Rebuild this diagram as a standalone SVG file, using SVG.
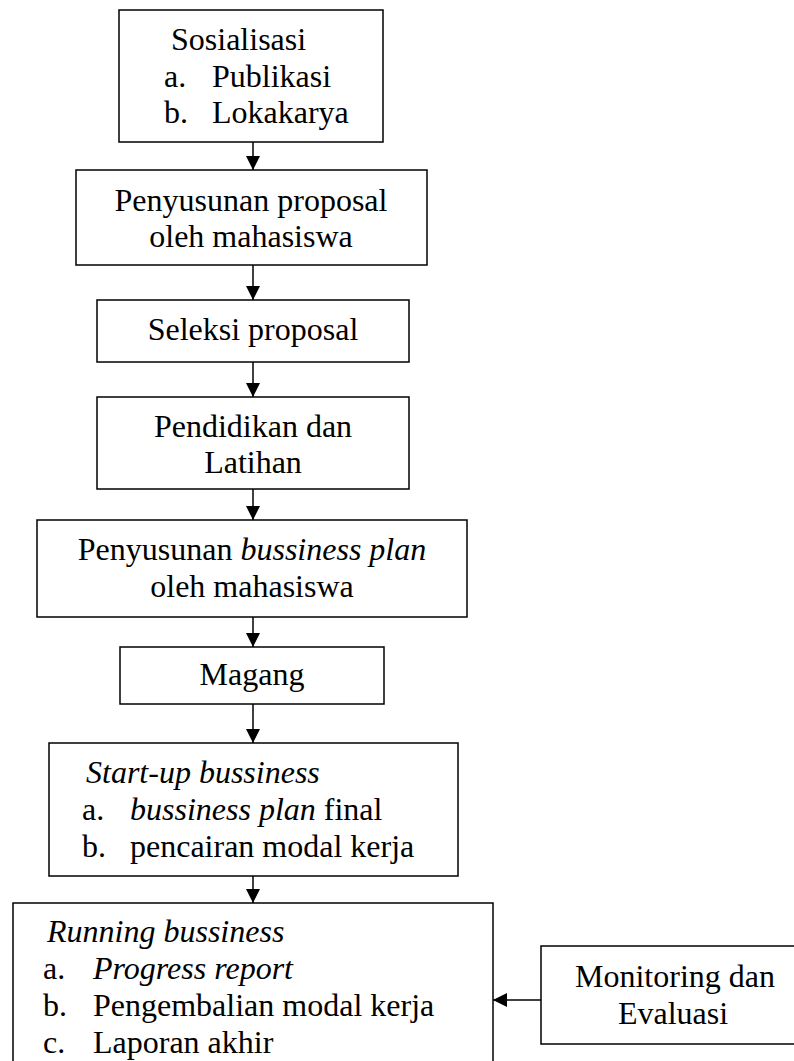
<svg xmlns="http://www.w3.org/2000/svg" width="794" height="1061" viewBox="0 0 794 1061">
<style>
.box{fill:#fff;stroke:#000;stroke-width:1.5}
.t{font-family:"Liberation Serif","Times New Roman",serif;font-size:32px;fill:#000}
.c{text-anchor:middle}
.i{font-style:italic}
.conn{stroke:#000;stroke-width:1.5;fill:none}
</style>
<defs>
<marker id="ah" markerUnits="userSpaceOnUse" markerWidth="14" markerHeight="14" refX="14" refY="7" orient="auto">
<path d="M0,0 L14,7 L0,14 z" fill="#000"/>
</marker>
</defs>
<rect width="794" height="1061" fill="#fff"/>
<g id="connectors">
<line class="conn" x1="253" y1="142" x2="253" y2="170" marker-end="url(#ah)"/>
<line class="conn" x1="253" y1="265" x2="253" y2="300" marker-end="url(#ah)"/>
<line class="conn" x1="253" y1="362" x2="253" y2="397" marker-end="url(#ah)"/>
<line class="conn" x1="253" y1="489" x2="253" y2="520" marker-end="url(#ah)"/>
<line class="conn" x1="253" y1="617" x2="253" y2="647" marker-end="url(#ah)"/>
<line class="conn" x1="253" y1="704" x2="253" y2="743" marker-end="url(#ah)"/>
<line class="conn" x1="253" y1="876" x2="253" y2="903" marker-end="url(#ah)"/>
<line class="conn" x1="541" y1="1000" x2="493" y2="1000" marker-end="url(#ah)"/>
</g>
<g id="sosialisasi">
<rect class="box" x="119" y="10" width="264" height="132"/>
<text class="t" x="171" y="50">Sosialisasi</text>
<text class="t" x="164" y="87">a.</text><text class="t" x="212" y="87">Publikasi</text>
<text class="t" x="164" y="123">b.</text><text class="t" x="212" y="123">Lokakarya</text>
</g>
<g id="proposal">
<rect class="box" x="76" y="170" width="351" height="95"/>
<text class="t c" x="251" y="211">Penyusunan proposal</text>
<text class="t c" x="251" y="247">oleh mahasiswa</text>
</g>
<g id="seleksi">
<rect class="box" x="97" y="300" width="312" height="62"/>
<text class="t c" x="253" y="340">Seleksi proposal</text>
</g>
<g id="diklat">
<rect class="box" x="97" y="397" width="312" height="92"/>
<text class="t c" x="253" y="437">Pendidikan dan</text>
<text class="t c" x="253" y="473">Latihan</text>
</g>
<g id="bplan">
<rect class="box" x="37" y="520" width="430" height="97"/>
<text class="t c" x="252" y="560">Penyusunan <tspan class="i">bussiness plan</tspan></text>
<text class="t c" x="252" y="597">oleh mahasiswa</text>
</g>
<g id="magang">
<rect class="box" x="120" y="647" width="264" height="57"/>
<text class="t c" x="252" y="685">Magang</text>
</g>
<g id="startup">
<rect class="box" x="49" y="743" width="409" height="133"/>
<text class="t i" x="86" y="783">Start-up bussiness</text>
<text class="t" x="82" y="820">a.</text><text class="t" x="130" y="820"><tspan class="i">bussiness plan</tspan> final</text>
<text class="t" x="82" y="857">b.</text><text class="t" x="130" y="857">pencairan modal kerja</text>
</g>
<g id="running">
<rect class="box" x="13" y="903" width="480" height="180"/>
<text class="t i" x="47" y="942">Running bussiness</text>
<text class="t" x="43" y="979">a.</text><text class="t i" x="93" y="979">Progress report</text>
<text class="t" x="43" y="1016">b.</text><text class="t" x="93" y="1016">Pengembalian modal kerja</text>
<text class="t" x="43" y="1053">c.</text><text class="t" x="93" y="1053">Laporan akhir</text>
</g>
<g id="monev">
<rect class="box" x="541" y="946" width="270" height="98"/>
<text class="t c" x="675" y="987">Monitoring dan</text>
<text class="t c" x="673" y="1024">Evaluasi</text>
</g>
</svg>
